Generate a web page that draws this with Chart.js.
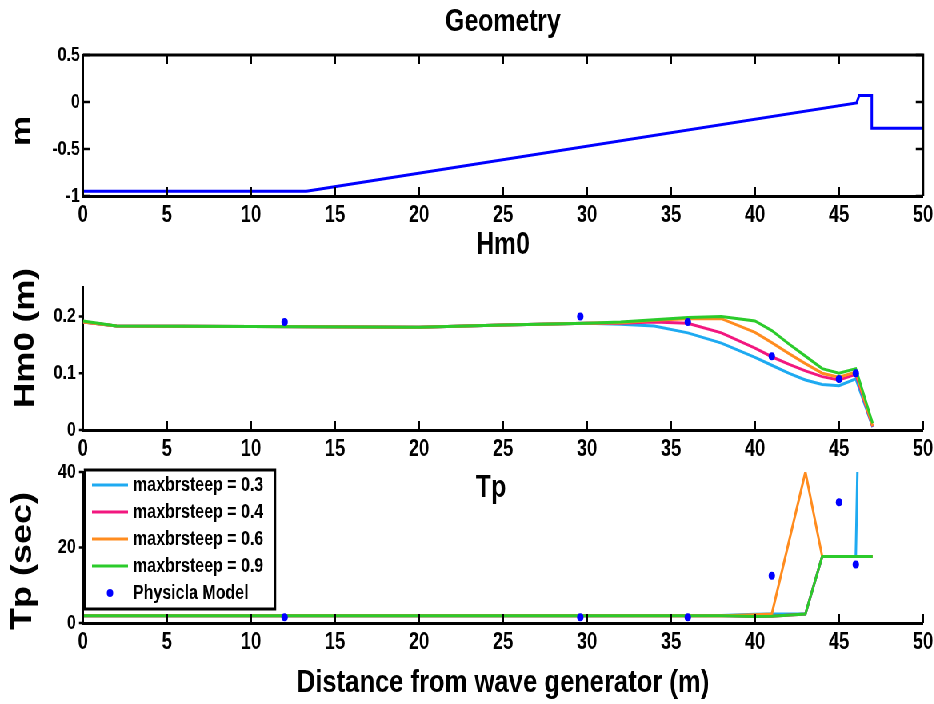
<!DOCTYPE html>
<html>
<head>
<meta charset="utf-8">
<title>Geometry / Hm0 / Tp</title>
<script src="https://cdn.jsdelivr.net/npm/chart.js@4.4.1/dist/chart.umd.min.js"></script>
<style>
  html, body { margin: 0; padding: 0; background: #fff; overflow: hidden; }
  /* the source figure is squeezed sideways, so draw wide and squeeze the whole thing */
  #wrap { position: absolute; left: 0; top: 0; width: 1168px; height: 704px; transform: scale(0.8, 1); transform-origin: 0 0; }
  .panel { position: absolute; left: 0; width: 1168px; }
</style>
</head>
<body>
<div id="wrap">
  <div class="panel" style="top:0;height:232px"><canvas id="geoChart"></canvas></div>
  <div class="panel" style="top:226px;height:236px"><canvas id="hm0Chart"></canvas></div>
  <div class="panel" style="top:462px;height:242px"><canvas id="tpChart"></canvas></div>
</div>
<script>
// Data
const xTicks = [0, 5, 10, 15, 20, 25, 30, 35, 40, 45, 50];

const geoX = [0, 13.3, 46.05, 46.2, 46.95, 46.95, 50];
const geoY = [-0.95, -0.95, -0.01, 0.07, 0.07, -0.28, -0.28];
const geoTicks = [-1, -0.5, 0, 0.5];

const hm0X = [0, 2, 10, 20, 25, 30, 32, 34, 36, 38, 40, 41, 42, 43, 44, 45, 46, 47];
const hm0Steep03 = [0.19, 0.183, 0.182, 0.181, 0.185, 0.188, 0.186, 0.183, 0.171, 0.153, 0.128, 0.114, 0.100, 0.088, 0.080, 0.078, 0.090, 0.005];
const hm0Steep04 = [0.19, 0.183, 0.182, 0.181, 0.185, 0.188, 0.188, 0.190, 0.188, 0.171, 0.144, 0.129, 0.116, 0.104, 0.094, 0.088, 0.098, 0.006];
const hm0Steep06 = [0.19, 0.183, 0.182, 0.181, 0.185, 0.188, 0.189, 0.193, 0.196, 0.196, 0.172, 0.154, 0.135, 0.117, 0.100, 0.093, 0.102, 0.007];
const hm0Steep09 = [0.192, 0.183, 0.182, 0.181, 0.185, 0.188, 0.190, 0.194, 0.198, 0.200, 0.192, 0.175, 0.152, 0.130, 0.108, 0.100, 0.108, 0.012];
const hm0Ticks = [0, 0.1, 0.2];

const tpX = [0, 2, 10, 20, 30, 38, 40, 41, 43, 44, 45, 46, 47];
const tpSteep03 = [1.9, 1.9, 1.9, 1.9, 1.9, 2.0, 2.3, 2.4, 2.4, 17.6, 17.6, 17.6, 250];
const tpSteep04 = [1.9, 1.9, 1.9, 1.9, 1.9, 1.9, 1.7, 1.8, 2.4, 17.6, 17.6, 17.6, 17.6];
const tpSteep06 = [1.9, 1.9, 1.9, 1.9, 1.9, 1.9, 2.2, 2.4, 40, 17.6, 17.6, 17.6, 17.6];
const tpSteep09 = [1.9, 1.9, 1.9, 1.9, 1.9, 1.9, 1.7, 1.8, 2.4, 17.6, 17.6, 17.6, 17.6];
const tpTicks = [0, 20, 40];

const modelX = [12, 29.6, 36, 41, 45, 46];
const modelHm0 = [0.19, 0.2, 0.19, 0.13, 0.09, 0.1];
const modelTp = [1.5, 1.5, 1.5, 12.5, 32, 15.5];

const steepLabels = ['maxbrsteep = 0.3', 'maxbrsteep = 0.4', 'maxbrsteep = 0.6', 'maxbrsteep = 0.9'];
const steepColors = ['#1eaaf1', '#f2177f', '#ff8c1f', '#2bcb2b'];
const modelLabel = 'Physicla Model';

const FONT = '"Liberation Sans", Arial, sans-serif';
Chart.defaults.font.family = FONT;
Chart.defaults.color = '#000';

function pts(xs, ys) {
    return xs.map((x, i) => ({ x: x, y: ys[i] }));
}

function lineSet(label, xs, ys, color, order) {
    return {
        label: label,
        data: pts(xs, ys),
        showLine: true,
        borderColor: color,
        backgroundColor: color,
        borderWidth: 3,
        pointRadius: 0,
        order: order,
    };
}

function modelSet(xs, ys) {
    return {
        label: modelLabel,
        data: pts(xs, ys),
        showLine: false,
        backgroundColor: '#0000ff',
        borderColor: '#0000ff',
        pointRadius: 4,
        borderWidth: 0,
        order: 0,
    };
}

function xScale(height, title) {
    return {
        type: 'linear',
        min: 0,
        max: 50,
        afterBuildTicks: s => { s.ticks = xTicks.map(v => ({ value: v })); },
        afterFit: s => { s.height = height; s.paddingLeft = 0; s.paddingRight = 0; },
        grid: { display: false, drawTicks: false },
        border: { display: true, width: 3, color: '#000' },
        ticks: { color: '#000', font: { size: 23, weight: 'bold' }, padding: 6, maxRotation: 0 },
        title: title ? {
            display: true,
            text: title,
            color: '#000',
            font: { size: 32, weight: 'bold' },
            padding: { top: 0, bottom: 2 },
        } : { display: false },
    };
}

function yScale(min, max, tickValues, pad) {
    return {
        type: 'linear',
        min: min,
        max: max,
        afterBuildTicks: s => { s.ticks = tickValues.map(v => ({ value: v })); },
        afterFit: s => { s.width = 103.75; s.paddingTop = 0; s.paddingBottom = 0; },
        grid: { display: false, drawTicks: false },
        border: { display: true, width: 3, color: '#000' },
        ticks: {
            color: '#000',
            font: { size: 20, weight: 'bold' },
            padding: pad,
            callback: v => String(v),
        },
    };
}

// axes box, inner tick marks, rotated y titles, in-plot title and legend
const decor = {
    id: 'decor',
    afterDraw(chart, args, opts) {
        const ctx = chart.ctx;
        const a = chart.chartArea;
        const sx = chart.scales.x;
        const sy = chart.scales.y;
        ctx.save();
        ctx.strokeStyle = '#000';
        ctx.fillStyle = '#000';

        if (opts.box) {
            ctx.lineWidth = 3;
            ctx.beginPath();
            ctx.moveTo(a.left, a.top);
            ctx.lineTo(a.right, a.top);
            ctx.lineTo(a.right, a.bottom);
            ctx.stroke();
        }

        ctx.lineWidth = 2.5;
        ctx.beginPath();
        sx.ticks.forEach(t => {
            const px = sx.getPixelForValue(t.value);
            ctx.moveTo(px, a.bottom);
            ctx.lineTo(px, a.bottom - 9);
            if (opts.box) {
                ctx.moveTo(px, a.top);
                ctx.lineTo(px, a.top + 9);
            }
        });
        sy.ticks.forEach(t => {
            const py = sy.getPixelForValue(t.value);
            if (opts.box) {
                ctx.moveTo(a.left, py);
                ctx.lineTo(a.left + 9, py);
                ctx.moveTo(a.right, py);
                ctx.lineTo(a.right - 9, py);
            } else {
                ctx.moveTo(a.left, py);
                ctx.lineTo(a.left - 5, py);
            }
        });
        ctx.stroke();

        if (opts.yTitle) {
            ctx.save();
            ctx.translate(opts.yTitle.x, opts.yTitle.y);
            ctx.rotate(-Math.PI / 2);
            ctx.font = 'bold ' + opts.yTitle.size + 'px ' + FONT;
            ctx.textAlign = 'center';
            ctx.textBaseline = 'middle';
            ctx.fillText(opts.yTitle.text, 0, 0);
            ctx.restore();
        }

        if (opts.innerTitle) {
            ctx.font = 'bold 31px ' + FONT;
            ctx.textAlign = 'center';
            ctx.textBaseline = 'middle';
            ctx.fillText(opts.innerTitle, (a.left + a.right) / 2 - 15, a.top + 16);
        }

        if (opts.legend) {
            const bx = a.left + 2.5, by = a.top - 2, bw = 237.5, bh = 139;
            ctx.fillStyle = '#fff';
            ctx.fillRect(bx, by, bw, bh);
            ctx.lineWidth = 3;
            ctx.strokeStyle = '#000';
            ctx.strokeRect(bx, by, bw, bh);
            ctx.font = 'bold 20px ' + FONT;
            ctx.textAlign = 'left';
            ctx.textBaseline = 'middle';
            chart.data.datasets.forEach((ds, i) => {
                const y = by + 15 + i * 27;
                if (ds.showLine) {
                    ctx.strokeStyle = ds.borderColor;
                    ctx.lineWidth = 3;
                    ctx.beginPath();
                    ctx.moveTo(bx + 8.75, y);
                    ctx.lineTo(bx + 53.75, y);
                    ctx.stroke();
                } else {
                    ctx.fillStyle = ds.backgroundColor;
                    ctx.beginPath();
                    ctx.arc(bx + 31.25, y, ds.pointRadius, 0, Math.PI * 2);
                    ctx.fill();
                }
                ctx.fillStyle = '#000';
                ctx.fillText(ds.label, bx + 60, y);
            });
        }
        ctx.restore();
    }
};

function baseOptions(extra) {
    return Object.assign({
        responsive: true,
        maintainAspectRatio: false,
        animation: false,
        events: [],
    }, extra);
}

// Geometry
new Chart(document.getElementById('geoChart'), {
    type: 'scatter',
    data: {
        datasets: [{
            label: 'Geometry',
            data: pts(geoX, geoY),
            showLine: true,
            borderColor: '#0000ff',
            borderWidth: 3,
            pointRadius: 0,
        }]
    },
    options: baseOptions({
        layout: { padding: { top: 0, left: 0, right: 14.25, bottom: 0 } },
        scales: {
            x: xScale(36),
            y: yScale(-1, 0.5, geoTicks, 4),
        },
        plugins: {
            legend: { display: false },
            tooltip: { enabled: false },
            title: {
                display: true,
                text: 'Geometry',
                fullSize: false,
                color: '#000',
                font: { size: 31, weight: 'bold' },
                padding: { top: 3.4, bottom: 14.4 },
            },
            decor: { box: true, yTitle: { text: 'm', x: 28, y: 131, size: 34 } },
        }
    }),
    plugins: [decor]
});

// Hm0
new Chart(document.getElementById('hm0Chart'), {
    type: 'scatter',
    data: {
        datasets: [
            lineSet(steepLabels[0], hm0X, hm0Steep03, steepColors[0], 4),
            lineSet(steepLabels[1], hm0X, hm0Steep04, steepColors[1], 3),
            lineSet(steepLabels[2], hm0X, hm0Steep06, steepColors[2], 2),
            lineSet(steepLabels[3], hm0X, hm0Steep09, steepColors[3], 1),
            modelSet(modelX, modelHm0),
        ]
    },
    options: baseOptions({
        layout: { padding: { top: 0, left: 0, right: 14.25, bottom: 0 } },
        scales: {
            x: xScale(32),
            y: yScale(0, 0.25, hm0Ticks, 9),
        },
        plugins: {
            legend: { display: false },
            tooltip: { enabled: false },
            title: {
                display: true,
                text: 'Hm0',
                fullSize: false,
                color: '#000',
                font: { size: 31, weight: 'bold' },
                padding: { top: 0.4, bottom: 24.4 },
            },
            decor: { box: false, yTitle: { text: 'Hm0 (m)', x: 32.5, y: 112, size: 35 } },
        }
    }),
    plugins: [decor]
});

// Tp
new Chart(document.getElementById('tpChart'), {
    type: 'scatter',
    data: {
        datasets: [
            lineSet(steepLabels[0], tpX, tpSteep03, steepColors[0], 4),
            lineSet(steepLabels[1], tpX, tpSteep04, steepColors[1], 3),
            lineSet(steepLabels[2], tpX, tpSteep06, steepColors[2], 2),
            lineSet(steepLabels[3], tpX, tpSteep09, steepColors[3], 1),
            modelSet(modelX, modelTp),
        ]
    },
    options: baseOptions({
        layout: { padding: { top: 10, left: 0, right: 14.25, bottom: 0 } },
        scales: {
            x: xScale(81, 'Distance from wave generator (m)'),
            y: yScale(0, 40, tpTicks, 9),
        },
        plugins: {
            legend: { display: false },
            tooltip: { enabled: false },
            title: { display: false },
            decor: { box: false, innerTitle: 'Tp', legend: true, yTitle: { text: 'Tp (sec)', x: 28.75, y: 99, size: 36 } },
        }
    }),
    plugins: [decor]
});
</script>
</body>
</html>
